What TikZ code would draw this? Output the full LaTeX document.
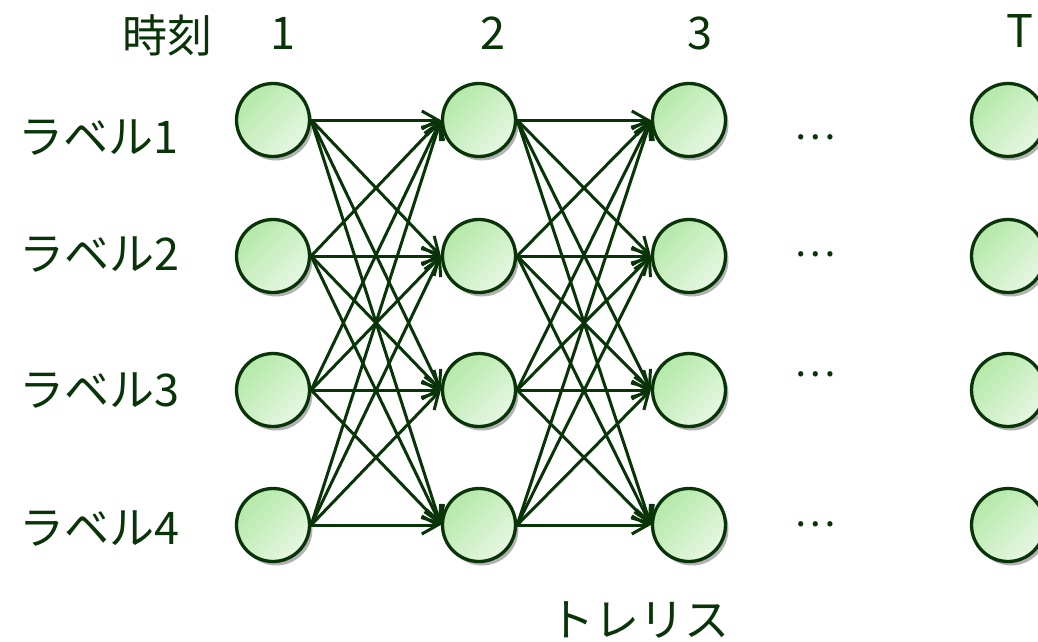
\documentclass[tikz,border=0pt]{standalone}
\usepackage{fontspec}
\setmainfont{Noto Sans CJK JP}
\usetikzlibrary{arrows.meta,shadows}
\definecolor{dg}{RGB}{8,52,8}
\definecolor{gA}{RGB}{180,232,168}
\definecolor{gB}{RGB}{230,247,226}
\begin{document}
\begin{tikzpicture}[x=1pt,y=-1pt,
  state/.style={circle,draw=dg,line width=3.3pt,minimum size=73pt,inner sep=0pt,
    top color=gA,bottom color=gB,shading angle=45,
    drop shadow={shadow xshift=3pt,shadow yshift=-4pt,opacity=0.3,fill=black}},
  lbl/.style={text=dg,font=\fontsize{45pt}{52pt}\selectfont,inner sep=0pt},
  dotlbl/.style={text=dg,font=\fontsize{39pt}{44pt}\selectfont,inner sep=0pt},
  edge/.style={draw=dg,line width=3pt,-{Straight Barb[length=16pt,width=18pt,line width=3pt]}}]
\clip (0,0) rectangle (1038,642);
\fill[white] (0,0) rectangle (1038,642);
% states
\foreach \c/\x in {1/273,2/479,3/689,4/1008}{
  \foreach \r/\y in {1/120,2/256,3/390,4/525}{
    \node[state] (n\c\r) at (\x,\y) {};
  }
}
% edges
\foreach \i in {1,2,3,4}{
  \foreach \j in {1,2,3,4}{
    \draw[edge] (n1\i.east) -- (n2\j.west);
    \draw[edge] (n2\i.east) -- (n3\j.west);
  }
}
% labels
\node[lbl] (t0) at (167,35) {時刻};
\node[lbl] (t1) at (283,33) {1};
\node[lbl] (t2) at (493,33) {2};
\node[lbl] (t3) at (700,33) {3};
\node[lbl] (tT) at (1020,31) {T};
\node[lbl] (l1) at (98,138) {ラベル1};
\node[lbl] (l2) at (99,255) {ラベル2};
\node[lbl] (l3) at (99,391) {ラベル3};
\node[lbl] (l4) at (99,529) {ラベル4};
\node[lbl] (tr) at (639,620) {トレリス};
\node[dotlbl] (d1) at (815,137) {…};
\node[dotlbl] (d2) at (815,254) {…};
\node[dotlbl] (d3) at (815,374) {…};
\node[dotlbl] (d4) at (815,524) {…};
\end{tikzpicture}
\end{document}
